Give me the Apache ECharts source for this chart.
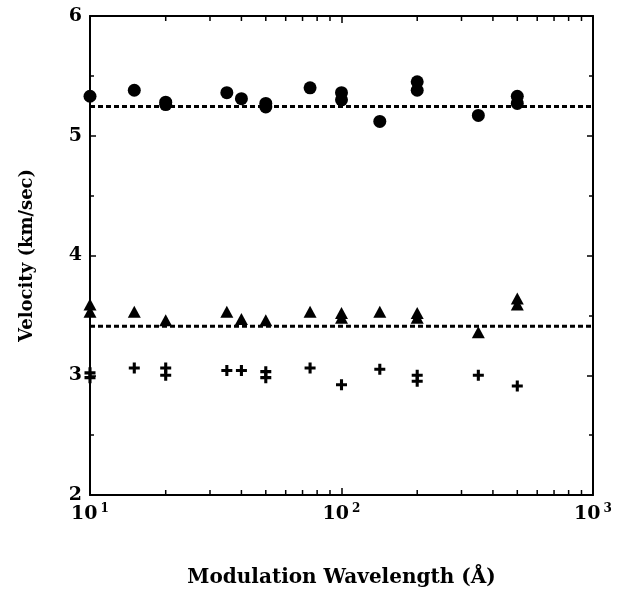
<!DOCTYPE html>
<html>
<head>
<meta charset="utf-8">
<script src="https://cdn.jsdelivr.net/npm/echarts@6/dist/echarts.min.js"></script>
<style>
html,body{margin:0;padding:0;background:#fff;}
#chart{width:621px;height:593px;}
</style>
</head>
<body>
<div id="chart"></div>
<script>
// Modulation wavelength (Å) and measured velocities (km/sec)
const circleX = [10, 15, 20, 20, 35, 40, 50, 50, 75, 100, 100, 142, 200, 200, 350, 500, 500];
const circleY = [5.33, 5.38, 5.28, 5.26, 5.36, 5.31, 5.27, 5.24, 5.40, 5.36, 5.30, 5.12, 5.45, 5.38, 5.17, 5.33, 5.27];
const triX = [10, 10, 15, 20, 35, 40, 50, 75, 100, 100, 142, 200, 200, 350, 500, 500];
const triY = [3.59, 3.53, 3.53, 3.46, 3.53, 3.47, 3.46, 3.53, 3.52, 3.48, 3.53, 3.52, 3.48, 3.36, 3.64, 3.59];
const plusX = [10, 10, 15, 20, 20, 35, 40, 50, 50, 75, 100, 142, 200, 200, 350, 500];
const plusY = [3.02, 2.98, 3.06, 3.06, 3.00, 3.04, 3.04, 3.03, 2.98, 3.06, 2.92, 3.05, 3.00, 2.95, 3.00, 2.91];
const fitLines = [5.245, 3.41];
const fitRange = [10, 1000];
const xMinorTicks = [20, 30, 40, 50, 60, 70, 80, 90, 200, 300, 400, 500, 600, 700, 800, 900];
const yTicks = [2, 3, 4, 5, 6];
const xTitle = 'Modulation Wavelength (Å)';
const yTitle = 'Velocity (km/sec)';

const font = '"DejaVu Serif", "Liberation Serif", serif';
const pair = (xs, ys) => xs.map((x, i) => [x, ys[i]]);
const plusPath = 'path://M3.6,0H6.4V3.6H10V6.4H6.4V10H3.6V6.4H0V3.6H3.6Z';

const chart = echarts.init(document.getElementById('chart'), null, {renderer: 'canvas'});
const axisLine = {show: true, lineStyle: {color: '#000', width: 2}};
const mark = {color: '#000', opacity: 1};

const option = {
  backgroundColor: '#fff',
  animation: false,
  grid: {left: 90, right: 28, top: 16, bottom: 98, containLabel: false},
  xAxis: [
    {
      type: 'log', logBase: 10, min: fitRange[0], max: fitRange[1], position: 'bottom',
      axisLine: axisLine,
      axisTick: {show: true, inside: true, length: 7, lineStyle: {color: '#000', width: 1.5}},
      splitLine: {show: false},
      axisLabel: {
        margin: 8,
        formatter: v => '{b|10}{s|' + Math.round(Math.log10(v)) + '}',
        rich: {
          b: {fontFamily: font, fontWeight: 'bold', fontSize: 19, color: '#000'},
          s: {fontFamily: font, fontWeight: 'bold', fontSize: 12, color: '#000', padding: [0, 0, 10, 3]}
        }
      },
      name: xTitle, nameLocation: 'middle', nameGap: 73,
      nameTextStyle: {fontFamily: font, fontWeight: 'bold', fontSize: 20, color: '#000'}
    },
    {
      type: 'log', logBase: 10, min: fitRange[0], max: fitRange[1], position: 'top',
      axisLine: axisLine,
      axisTick: {show: true, inside: true, length: 7, lineStyle: {color: '#000', width: 1.5}},
      axisLabel: {show: false}, splitLine: {show: false}
    }
  ],
  yAxis: [
    {
      type: 'value', min: yTicks[0], max: yTicks[yTicks.length - 1], interval: 1, position: 'left',
      axisLine: axisLine,
      axisTick: {show: true, inside: true, length: 6, lineStyle: {color: '#000', width: 1.5}},
      minorTick: {show: true, splitNumber: 2, length: 4, lineStyle: {color: '#000', width: 1.5}},
      splitLine: {show: false},
      axisLabel: {margin: 8, fontFamily: font, fontWeight: 'bold', fontSize: 19, color: '#000'},
      name: yTitle, nameLocation: 'middle', nameGap: 54,
      nameTextStyle: {fontFamily: font, fontWeight: 'bold', fontSize: 18, color: '#000'}
    },
    {
      type: 'value', min: yTicks[0], max: yTicks[yTicks.length - 1], interval: 1, position: 'right',
      axisLine: axisLine,
      axisTick: {show: true, inside: true, length: 6, lineStyle: {color: '#000', width: 1.5}},
      minorTick: {show: true, splitNumber: 2, length: 4, lineStyle: {color: '#000', width: 1.5}},
      splitLine: {show: false}, axisLabel: {show: false}
    }
  ],
  series: [
    ...fitLines.map(v => ({
      type: 'line', xAxisIndex: 0, yAxisIndex: 0, symbol: 'none', silent: true,
      data: fitRange.map(x => [x, v]),
      lineStyle: {color: '#000', width: 3, type: [5, 3]}, z: 2
    })),
    {
      type: 'scatter', clip: false, data: pair(circleX, circleY),
      symbol: 'circle', symbolSize: 13, itemStyle: mark, z: 3
    },
    {
      type: 'scatter', clip: false, data: pair(triX, triY),
      symbol: 'triangle', symbolSize: [13, 12], itemStyle: mark, z: 3
    },
    {
      type: 'scatter', clip: false, data: pair(plusX, plusY),
      symbol: plusPath, symbolSize: 11, itemStyle: mark, z: 3
    },
    {
      type: 'scatter', clip: false, silent: true,
      data: xMinorTicks.map(x => [x, yTicks[0]]),
      symbol: 'rect', symbolSize: [1.5, 5], symbolOffset: [0, -2.5], itemStyle: mark, z: 4
    },
    {
      type: 'scatter', clip: false, silent: true,
      data: xMinorTicks.map(x => [x, yTicks[yTicks.length - 1]]),
      symbol: 'rect', symbolSize: [1.5, 5], symbolOffset: [0, 2.5], itemStyle: mark, z: 4
    }
  ]
};
chart.setOption(option);
</script>
</body>
</html>
